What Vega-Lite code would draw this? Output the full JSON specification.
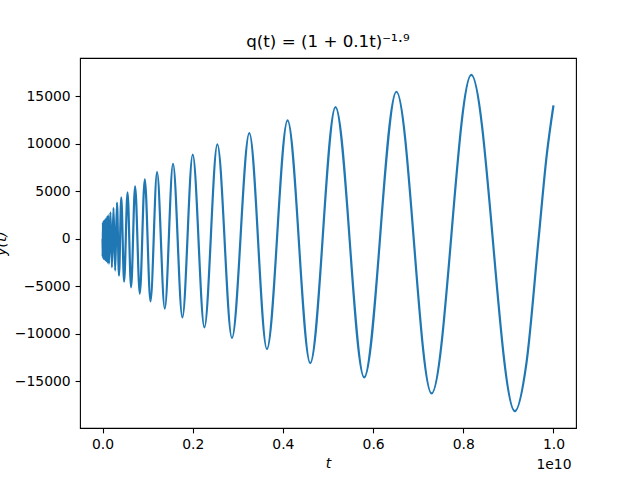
{
  "$schema": "https://vega.github.io/schema/vega-lite/v6.json",
  "width": 496,
  "height": 370,
  "autosize": "none",
  "padding": {"left": 80, "top": 58, "right": 64, "bottom": 52},
  "background": "white",
  "title": {
    "text": "q(t) = (1 + 0.1t)⁻¹·⁹",
    "font": "DejaVu Sans",
    "fontSize": 16.7,
    "fontWeight": "normal",
    "color": "black",
    "offset": 7,
    "anchor": "middle"
  },
  "data": {
    "values": [
      {"t": 0, "y": 0},
      {"t": 3e6, "y": -1900},
      {"t": 9e6, "y": 1750},
      {"t": 1.5e7, "y": -2050},
      {"t": 2.2e7, "y": 1850},
      {"t": 2.9e7, "y": -2100},
      {"t": 3.7e7, "y": 1900},
      {"t": 4.5e7, "y": -2150},
      {"t": 5.4e7, "y": 2000},
      {"t": 6.3e7, "y": -2250},
      {"t": 7.3e7, "y": 2150},
      {"t": 8.4e7, "y": -2350},
      {"t": 9.6e7, "y": 2300},
      {"t": 1.08e8, "y": -2500},
      {"t": 1.25e8, "y": 2500},
      {"t": 1.42e8, "y": -2630},
      {"t": 1.75e8, "y": 2800},
      {"t": 2.08e8, "y": -2990},
      {"t": 2.43e8, "y": 3270},
      {"t": 2.8e8, "y": -3340},
      {"t": 3.2e8, "y": 3820},
      {"t": 3.65e8, "y": -3870},
      {"t": 4.15e8, "y": 4380},
      {"t": 4.78e8, "y": -4500},
      {"t": 5.54e8, "y": 4910},
      {"t": 6.33e8, "y": -5100},
      {"t": 7.22e8, "y": 5540},
      {"t": 8.26e8, "y": -5760},
      {"t": 9.37e8, "y": 6280},
      {"t": 1.063e9, "y": -6580},
      {"t": 1.209e9, "y": 7020},
      {"t": 1.38e9, "y": -7340},
      {"t": 1.563e9, "y": 7900},
      {"t": 1.771e9, "y": -8260},
      {"t": 2.0e9, "y": 8880},
      {"t": 2.259e9, "y": -9310},
      {"t": 2.546e9, "y": 9940},
      {"t": 2.87e9, "y": -10430},
      {"t": 3.255e9, "y": 11130},
      {"t": 3.645e9, "y": -11590},
      {"t": 4.103e9, "y": 12470},
      {"t": 4.606e9, "y": -13070},
      {"t": 5.166e9, "y": 13870},
      {"t": 5.802e9, "y": -14580},
      {"t": 6.517e9, "y": 15490},
      {"t": 7.298e9, "y": -16270},
      {"t": 8.178e9, "y": 17270},
      {"t": 9.145e9, "y": -18135},
      {"t": 9.4e9, "y": -13100},
      {"t": 9.67e9, "y": 0},
      {"t": 9.85e9, "y": 8800},
      {"t": 1.0e10, "y": 14046}
    ]
  },
  "mark": {"type": "line", "interpolate": "monotone", "color": "#1f77b4", "strokeWidth": 2.2},
  "encoding": {
    "x": {
      "field": "t",
      "type": "quantitative",
      "scale": {"domain": [-5e8, 1.05e10], "nice": false, "zero": false},
      "axis": {
        "values": [0, 2e9, 4e9, 6e9, 8e9, 1e10],
        "labelExpr": "datum.value == 1e10 ? ['1.0', '\u00a0\u00a0\u00a0\u00a01e10'] : format(datum.value / 1e10, '.1f')",
        "labelLineHeight": 20,
        "labelBaseline": "top",
        "labelFlush": false,
        "labelOverlap": false,
        "title": "t",
        "titleFontStyle": "italic",
        "titleBaseline": "top",
        "titleY": 28
      }
    },
    "y": {
      "field": "y",
      "type": "quantitative",
      "scale": {"domain": [-19905, 19042], "nice": false, "zero": false},
      "axis": {
        "values": [-15000, -10000, -5000, 0, 5000, 10000, 15000],
        "format": "d",
        "labelOverlap": false,
        "title": "y(t)",
        "titleFontStyle": "italic",
        "titleBaseline": "bottom",
        "titleX": -72,
        "titleY": 185,
        "titleAngle": -90
      }
    }
  },
  "config": {
    "view": {"stroke": "black", "strokeWidth": 1.1},
    "axis": {
      "grid": false,
      "domain": false,
      "labelFont": "DejaVu Sans",
      "labelFontSize": 13.9,
      "labelColor": "black",
      "tickColor": "black",
      "tickSize": 4.9,
      "tickWidth": 1.1,
      "labelPadding": 4.9,
      "titleFont": "DejaVu Sans",
      "titleFontSize": 13.9,
      "titleFontWeight": "normal",
      "titleColor": "black"
    }
  }
}
